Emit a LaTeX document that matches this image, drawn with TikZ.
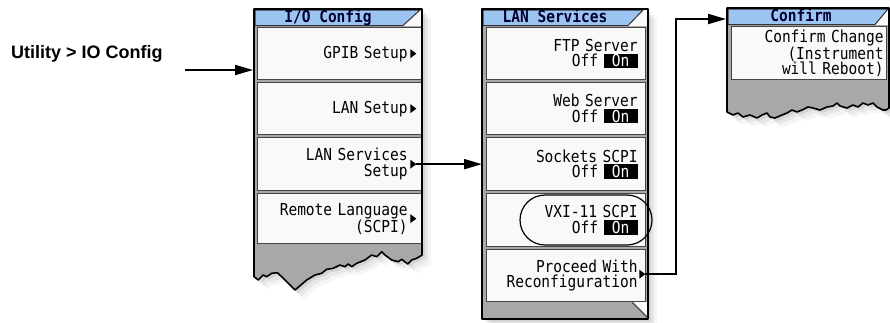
\documentclass[tikz,border=0pt]{standalone}
\usepackage{fontspec}
\setmainfont{Liberation Sans}
\newfontfamily\keyfont{DejaVu Sans Mono}[FakeStretch=0.88]
\usetikzlibrary{positioning}
\usetikzlibrary{arrows.meta}
\definecolor{headblue}{RGB}{155,196,240}
\definecolor{headink}{RGB}{0,0,48}
\definecolor{keyfill}{RGB}{249,249,249}
\definecolor{keyline}{RGB}{70,70,70}
\definecolor{tornfill}{RGB}{168,168,168}
\newcommand\onkey{{\fboxsep=1pt\colorbox{black}{\makebox[32pt]{\textcolor{white}{On}}}}}
% outlines of the three softkey panels
\newcommand\ioedge{(254,9) -- (422,9) -- (422,255) -- (416.7,258.3) -- (411.7,260) -- (407.7,264) -- (401.7,259.3) -- (398.3,261.7) -- (391.7,260) -- (385,255) -- (381.7,251.7) -- (376.7,256.7) -- (371.7,255) -- (365,260) -- (356.7,263.3) -- (351.7,266.7) -- (348.3,264) -- (345,266.7) -- (340,265) -- (333.3,268.3) -- (326.7,269.3) -- (321.7,273.3) -- (315,275) -- (306.7,280) -- (295,290) -- (281.7,276.7) -- (277.3,272.7) -- (271.7,273.3) -- (266.7,276.7) -- (263.3,275) -- (258.3,280) -- (254,276.7) -- cycle}
\newcommand\svcedge{(482,9) -- (648,9) -- (648,319) -- (482,319) -- cycle}
\newcommand\cfmedge{(727,8) -- (889,8) -- (889,108) -- (886,110) -- (883,110) -- (877,107) -- (873,103) -- (868,105) -- (863,103) -- (858,107) -- (853,105) -- (847,108) -- (840,106) -- (837,103) -- (833,106) -- (827,107) -- (820,110) -- (813,108) -- (808,107) -- (802,110) -- (797,112) -- (792,110) -- (787,113) -- (782,115) -- (775,118) -- (770,117) -- (767,113) -- (762,115) -- (757,118) -- (750,115) -- (743,117) -- (738,113) -- (733,115) -- (727,112) -- cycle}
\tikzset{
    keyrow/.style = {draw=keyline, line width=1.3pt, fill=keyfill, anchor=north west, inner sep=0pt, align=right, font=\keyfont\fontsize{16.5}{15.5}\selectfont, text=black},
    iokey/.style = {keyrow, minimum width=164pt, text width=136pt},
    svckey/.style = {keyrow, minimum width=159pt, text width=143pt},
    keyhead/.style = {font=\keyfont\bfseries\fontsize{16.5}{16}\selectfont, text=headink, inner sep=0pt, anchor=base},
    panel/.style = {draw=black, line width=1.6pt, line join=round},
    headtab/.style = {fill=headblue, draw=black!80, line width=1pt},
    flow/.style = {-{Triangle[length=18pt,width=10pt]}, line width=2pt, black},
    hilite/.style = {draw=black, line width=1.2pt, rounded corners=25pt},
    menupath/.style = {font=\bfseries\fontsize{18}{20}\selectfont, anchor=base west, inner sep=0pt},
    keymark/.pic = {\fill (-6,-4.5) -- (0,0) -- (-6,4.5) -- cycle;}
}

\begin{document}
\begin{tikzpicture}[x=1pt,y=-1pt]
\useasboundingbox (0,0) rectangle (890,322);
%
% soft shadows
\foreach \s/\o in {3/0.08,6/0.06,9/0.04}{
  \fill[black,opacity=\o,shift={(\s,\s)}] \ioedge;
  \fill[black,opacity=\o,shift={(\s,\s)}] \svcedge;
  \fill[black,opacity=\o,shift={(\s,\s)}] \cfmedge;
}
%
% I/O Config
\fill[tornfill] \ioedge;
\fill[keyfill] (255,10) rectangle (421,26);
\filldraw[headtab] (255,10) -- (420,10) -- (403,25.5) -- (255,25.5) -- cycle;
\node[keyhead] (iohead) at (328,22.5) {I/O Config};
\node[iokey, minimum height=52pt] (gpib) at (257,27) {GPIB Setup};
\node[iokey, minimum height=52pt] (lan) at (257,82) {LAN Setup};
\node[iokey, minimum height=53pt] (lansvc) at (257,137) {LAN Services\\Setup};
\node[iokey, minimum height=50pt] (remote) at (257,193) {Remote Language\\(SCPI)};
\pic at ([xshift=-6pt]gpib.east) {keymark};
\pic at ([xshift=-6pt]lan.east) {keymark};
\pic at ([xshift=-6pt]lansvc.east) {keymark};
\pic at ([xshift=-6pt]remote.east) {keymark};
\draw[panel] \ioedge;
%
% LAN Services
\fill[tornfill] \svcedge;
\fill[keyfill] (483,10) rectangle (647,26);
\filldraw[headtab] (483,10) -- (643,10) -- (628,25.5) -- (483,25.5) -- cycle;
\node[keyhead] (svchead) at (555,22.5) {LAN Services};
\node[svckey, minimum height=52pt] (ftp) at (486,27) {FTP Server\\Off \onkey};
\node[svckey, minimum height=52pt] (web) at (486,82) {Web Server\\Off \onkey};
\node[svckey, minimum height=53pt] (sockets) at (486,137) {Sockets SCPI\\Off \onkey};
\node[svckey, minimum height=53pt] (vxi) at (486,193) {VXI-11 SCPI\\Off \onkey};
\node[svckey, minimum height=52pt] (proceed) at (486,249) {Proceed With\\Reconfiguration};
\pic at ([xshift=-1pt,yshift=1.5pt]proceed.east) {keymark};
\fill[keyfill] (632,302) -- (647,302) -- (647,317) -- cycle;
\draw[keyline, line width=1.2pt] (632,302) -- (647,317);
\draw[panel] \svcedge;
\draw[hilite] (520,195) rectangle (652,245);
%
% Confirm
\fill[tornfill] \cfmedge;
\fill[keyfill] (728,9) rectangle (888,25);
\filldraw[headtab] (728,9) -- (888,9) -- (875,24.5) -- (728,24.5) -- cycle;
\node[keyhead] (cfmhead) at (801,21.5) {Confirm};
\node[keyrow, minimum width=155pt, text width=149pt, minimum height=53pt] (confirm) at (731,26) {Confirm Change\\(Instrument\\will Reboot)};
\draw[panel] \cfmedge;
%
% key path and connectors
\node[menupath] (utilpath) at (11,58) {Utility > IO Config};
\coordinate (util-out) at (185,70);
\coordinate (iocfg-in) at (253,70);
\coordinate (cfm-in) at (726,19);
\draw[flow] (util-out) -- (iocfg-in);
\draw[flow] ([xshift=-6pt]lansvc.east) -- ([xshift=-4pt]sockets.west);
\draw[flow] ([xshift=-1pt,yshift=1.5pt]proceed.east) -- ++(31,0) |- (cfm-in);

\end{tikzpicture}
\end{document}
